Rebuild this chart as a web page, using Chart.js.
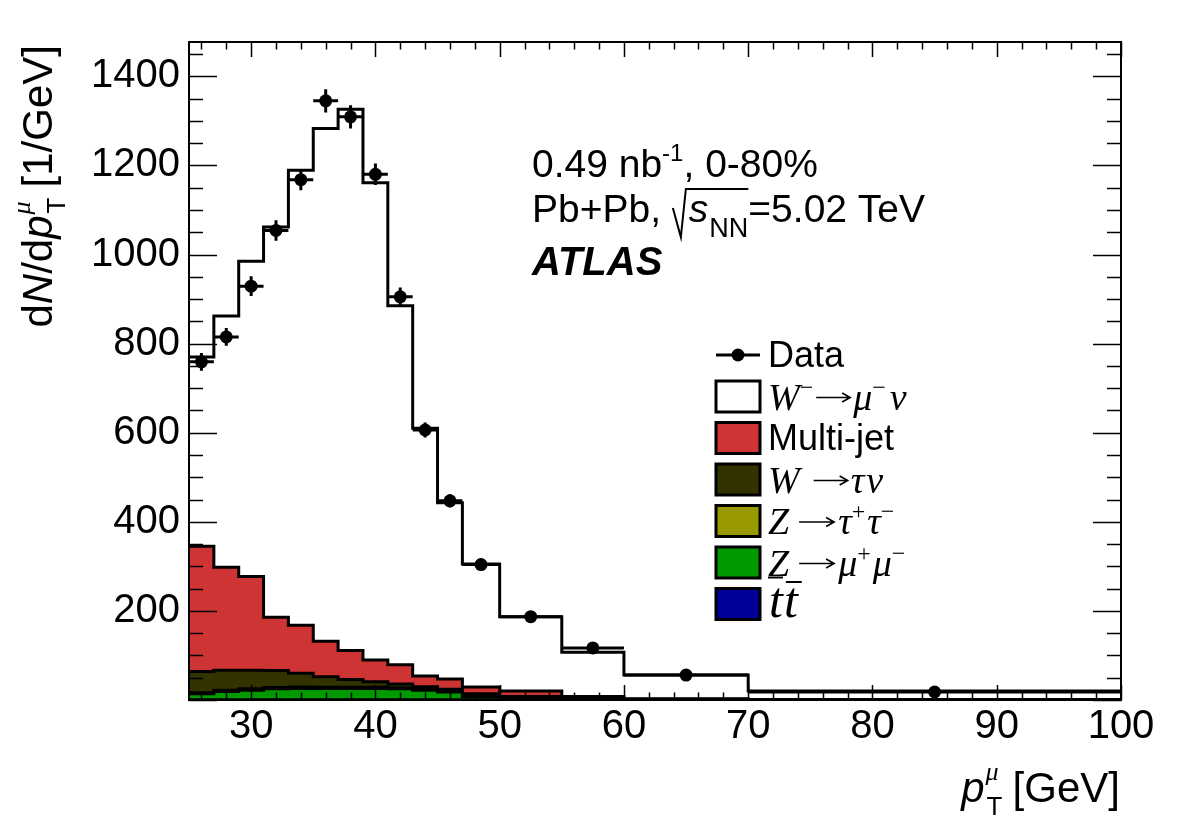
<!DOCTYPE html>
<html>
<head>
<meta charset="utf-8">
<script src="https://cdn.jsdelivr.net/npm/chart.js@4.4.1/dist/chart.umd.min.js"></script>
<style>
  html, body { margin: 0; padding: 0; background: #fff; }
  canvas { display: block; }
</style>
</head>
<body>
<canvas id="chart" width="1182" height="836"></canvas>
<script>
// muon pT bins [GeV]
const binEdges = [25, 27, 29, 31, 33, 35, 37, 39, 41, 43, 45, 47, 50, 55, 60, 70, 100];

// data points (bin centres, dN/dpT, stat. error)
const dataCenters = [26, 28, 30, 32, 34, 36, 38, 40, 42, 44, 46, 48.5, 52.5, 57.5, 65, 85];
const dataValues  = [759, 815, 929, 1054, 1168, 1345, 1309, 1180, 905, 606, 447, 304, 187, 117, 56, 18];
const dataErrors  = [20, 20, 22, 23, 24, 26, 26, 24, 21, 17, 15, 10, 6, 5, 2.4, 0.8];

// stacked expectations, bottom to top
const ttbar    = [0.5, 0.5, 0.6, 0.6, 0.6, 0.6, 0.6, 0.6, 0.6, 0.5, 0.5, 0.4, 0.3, 0.2, 0.1, 0.05];
const zMuMu    = [13.5, 18.5, 21.4, 24.4, 25.4, 25.4, 25.4, 25.4, 24.4, 21.5, 17.5, 7.6, 3.7, 1.3, 0.6, 0.25];
const zTauTau  = [2.5, 2.8, 3.0, 3.0, 3.0, 2.8, 2.6, 2.4, 2.2, 1.9, 1.5, 1.0, 0.6, 0.3, 0.15, 0.06];
const wTauNu   = [47.5, 45.2, 42.0, 38.0, 31.0, 23.2, 17.4, 12.6, 8.8, 6.1, 4.5, 5.0, 3.4, 1.2, 0.65, 0.24];
const multiJet = [281, 231, 210, 120, 108, 80, 65, 49, 43, 24, 23, 15, 12, 5, 1.5, 0.6];
const wMuNu    = [425, 564, 708, 876, 1021, 1151, 1215, 1071, 806, 556, 396, 276, 167, 99, 53, 18.8];

const SANS = '"Liberation Sans", Arial, Helvetica, sans-serif';
const SERIF = '"Liberation Serif", "Times New Roman", serif';

// step histogram: one point per left edge + closing point at last edge
function stepPoints(values) {
    const pts = values.map((v, i) => ({ x: binEdges[i], y: v }));
    pts.push({ x: binEdges[binEdges.length - 1], y: values[values.length - 1] });
    return pts;
}

const stackDefs = [
    { label: 'ttbar', values: ttbar, color: '#000099' },
    { label: 'Z->mumu', values: zMuMu, color: '#009900' },
    { label: 'Z->tautau', values: zTauTau, color: '#999900' },
    { label: 'W->taunu', values: wTauNu, color: '#333300' },
    { label: 'Multi-jet', values: multiJet, color: '#cf3434' },
    { label: 'W- -> mu- nu', values: wMuNu, color: '#ffffff' }
];

const datasets = [{
    label: 'Data',
    data: dataCenters.map((c, i) => ({ x: c, y: dataValues[i] })),
    stack: 'data',
    showLine: false,
    pointRadius: 6.5,
    pointBackgroundColor: '#000',
    pointBorderColor: '#000',
    pointBorderWidth: 0
}];
stackDefs.forEach((s, i) => {
    datasets.push({
        label: s.label,
        data: stepPoints(s.values),
        stack: 'mc',
        stepped: 'before',
        fill: i === 0 ? 'origin' : '-1',
        backgroundColor: s.color,
        borderColor: '#000',
        borderWidth: 3,
        pointRadius: 0
    });
});

// draws mixed-font text left to right (p.arrow = drawn arrow length), returns end x
function rich(ctx, x, y, parts) {
    for (const p of parts) {
        if (p.arrow) {
            const ay = y - 12;
            ctx.save();
            ctx.lineWidth = 1.6;
            ctx.beginPath();
            ctx.moveTo(x, ay); ctx.lineTo(x + p.arrow, ay);
            ctx.moveTo(x + p.arrow - 8, ay - 4.5); ctx.lineTo(x + p.arrow, ay); ctx.lineTo(x + p.arrow - 8, ay + 4.5);
            ctx.stroke();
            ctx.restore();
            x += p.arrow + (p.gap || 0);
            continue;
        }
        ctx.font = p.font;
        ctx.fillText(p.t, x, y + (p.dy || 0));
        x += ctx.measureText(p.t).width + (p.gap || 0);
    }
    return x;
}
function richWidth(ctx, parts) {
    let w = 0;
    for (const p of parts) {
        ctx.font = p.font;
        w += ctx.measureText(p.t).width + (p.gap || 0);
    }
    return w;
}

const decor = {
    id: 'atlasDecor',
    afterDraw(chart) {
        const { ctx, chartArea: a, scales: { x, y } } = chart;
        ctx.save();
        ctx.strokeStyle = '#000';
        ctx.fillStyle = '#000';

        // error bars
        ctx.lineWidth = 3;
        dataCenters.forEach((c, i) => {
            const px = x.getPixelForValue(c);
            const py = y.getPixelForValue(dataValues[i]);
            ctx.beginPath();
            ctx.moveTo(x.getPixelForValue(binEdges[i]), py);
            ctx.lineTo(x.getPixelForValue(binEdges[i + 1]), py);
            ctx.moveTo(px, y.getPixelForValue(dataValues[i] - dataErrors[i]));
            ctx.lineTo(px, y.getPixelForValue(dataValues[i] + dataErrors[i]));
            ctx.stroke();
        });

        // frame
        ctx.lineWidth = 2;
        ctx.strokeRect(a.left, a.top, a.right - a.left, a.bottom - a.top);

        // ticks on all four sides
        ctx.lineWidth = 1.5;
        ctx.beginPath();
        for (let v = 0; v <= y.max; v += 50) {
            const len = v % 200 === 0 ? 28 : 14;
            const py = Math.round(y.getPixelForValue(v)) + 0.5;
            ctx.moveTo(a.left, py); ctx.lineTo(a.left + len, py);
            ctx.moveTo(a.right, py); ctx.lineTo(a.right - len, py);
        }
        for (let v = 26; v <= 100; v += 2) {
            const len = v % 10 === 0 ? 15 : 7.5;
            const px = Math.round(x.getPixelForValue(v)) + 0.5;
            ctx.moveTo(px, a.bottom); ctx.lineTo(px, a.bottom - len);
            ctx.moveTo(px, a.top); ctx.lineTo(px, a.top + len);
        }
        ctx.stroke();

        ctx.textAlign = 'left';
        ctx.textBaseline = 'alphabetic';

        // axis titles
        const xt = [
            { t: 'p', font: 'italic 42px ' + SANS, gap: 1 },
            { t: '\u03bc', font: 'italic 26px ' + SERIF, dy: -22, gap: 14 },
            { t: '[GeV]', font: '42px ' + SANS }
        ];
        const xw = richWidth(ctx, xt);
        let ex = 1120 - xw;
        ctx.font = 'italic 42px ' + SANS;
        const pW = ctx.measureText('p').width + 1;
        rich(ctx, ex, 802, xt);
        ctx.font = '26px ' + SANS;
        ctx.fillText('T', ex + pW + 1, 815);

        const yt = [
            { t: 'd', font: '42px ' + SANS },
            { t: 'N', font: 'italic 42px ' + SANS },
            { t: '/d', font: '42px ' + SANS },
            { t: 'p', font: 'italic 42px ' + SANS, gap: 1 },
            { t: '\u03bc', font: 'italic 26px ' + SERIF, dy: -22, gap: 14 },
            { t: '[1/GeV]', font: '42px ' + SANS }
        ];
        const yw = richWidth(ctx, yt);
        ctx.save();
        ctx.translate(52, 45 + yw);
        ctx.rotate(-Math.PI / 2);
        rich(ctx, 0, 0, yt);
        ctx.font = '42px ' + SANS;
        let off = ctx.measureText('d/d').width;
        ctx.font = 'italic 42px ' + SANS;
        off += ctx.measureText('Np').width + 1;
        ctx.font = '26px ' + SANS;
        ctx.fillText('T', off + 1, 13);
        ctx.restore();

        // annotation
        rich(ctx, 532, 177, [
            { t: '0.49 nb', font: '39px ' + SANS },
            { t: '-1', font: '24px ' + SANS, dy: -16 },
            { t: ', 0-80%', font: '39px ' + SANS }
        ]);
        let rx = rich(ctx, 532, 222, [{ t: 'Pb+Pb, ', font: '39px ' + SANS }]);
        const radStart = rx + 1;
        let sx = rich(ctx, radStart + 16, 222, [
            { t: 's', font: 'italic 39px ' + SANS, gap: 1 },
            { t: 'NN', font: '27px ' + SANS, dy: 15 }
        ]);
        ctx.lineWidth = 2;
        ctx.beginPath();
        ctx.moveTo(radStart, 208);
        ctx.lineTo(radStart + 8, 237);
        ctx.lineTo(radStart + 13, 189);
        ctx.lineTo(sx, 189);
        ctx.stroke();
        rich(ctx, sx, 222, [{ t: '=5.02 TeV', font: '39px ' + SANS }]);
        rich(ctx, 532, 275, [{ t: 'ATLAS', font: 'italic bold 40px ' + SANS }]);

        // legend
        const rowY = [355, 396.5, 438, 479.5, 521, 562.5, 604];
        const bx = 716, bw = 44, bh = 31, tx = 768;
        ctx.lineWidth = 3;
        ctx.beginPath();
        ctx.moveTo(bx, rowY[0]); ctx.lineTo(bx + bw, rowY[0]);
        ctx.stroke();
        ctx.beginPath();
        ctx.arc(bx + bw / 2, rowY[0], 6.5, 0, Math.PI * 2);
        ctx.fill();
        const legendOrder = [5, 4, 3, 2, 1, 0];
        legendOrder.forEach((si, r) => {
            const cy = rowY[r + 1];
            ctx.fillStyle = stackDefs[si].color;
            ctx.fillRect(bx, cy - bh / 2, bw, bh);
            ctx.strokeStyle = '#000';
            ctx.lineWidth = 3;
            ctx.strokeRect(bx, cy - bh / 2, bw, bh);
        });
        ctx.fillStyle = '#000';
        const it = 'italic 38px ' + SERIF;
        const sup = '24px ' + SERIF;
        rich(ctx, tx, rowY[0] + 12, [{ t: 'Data', font: '36px ' + SANS }]);
        rich(ctx, tx, rowY[1] + 13, [
            { t: 'W', font: it }, { t: '\u2212', font: sup, dy: -15, gap: 3 },
            { arrow: 34, gap: 3 }, { t: '\u03bc', font: it },
            { t: '\u2212', font: sup, dy: -15, gap: 4 }, { t: '\u03bd', font: it }
        ]);
        rich(ctx, tx, rowY[2] + 12, [{ t: 'Multi-jet', font: '36px ' + SANS }]);
        rich(ctx, tx, rowY[3] + 13, [
            { t: 'W', font: it, gap: 14 }, { arrow: 34, gap: 3 },
            { t: '\u03c4', font: it, gap: 2 }, { t: '\u03bd', font: it }
        ]);
        rich(ctx, tx, rowY[4] + 13, [
            { t: 'Z', font: it, gap: 10 }, { arrow: 35, gap: 4 },
            { t: '\u03c4', font: it }, { t: '+', font: sup, dy: -15, gap: 2 },
            { t: '\u03c4', font: it }, { t: '\u2212', font: sup, dy: -15 }
        ]);
        rich(ctx, tx, rowY[5] + 13, [
            { t: 'Z', font: it, gap: 10 }, { arrow: 35, gap: 4 },
            { t: '\u03bc', font: it }, { t: '+', font: sup, dy: -15, gap: 2 },
            { t: '\u03bc', font: it }, { t: '\u2212', font: sup, dy: -15 }
        ]);
        // stray bar under the Z, as in the source figure
        ctx.lineWidth = 2;
        ctx.beginPath();
        ctx.moveTo(tx, rowY[5] + 15); ctx.lineTo(tx + 15, rowY[5] + 15);
        ctx.stroke();
        const tt = 'italic 50px ' + SERIF;
        ctx.font = tt;
        const tw = ctx.measureText('t').width;
        const t2 = tx + 1 + tw + 1;
        rich(ctx, tx + 1, rowY[6] + 13, [{ t: 't', font: tt, gap: 1 }, { t: 't', font: tt }]);
        ctx.lineWidth = 2;
        ctx.beginPath();
        ctx.moveTo(t2 + 2, rowY[6] - 22); ctx.lineTo(t2 + tw + 4, rowY[6] - 22);
        ctx.stroke();

        ctx.restore();
    }
};

new Chart(document.getElementById('chart').getContext('2d'), {
    type: 'line',
    data: { datasets: datasets },
    plugins: [decor],
    options: {
        responsive: false,
        animation: false,
        devicePixelRatio: 1,
        layout: { padding: { top: 42, right: 61, left: 0, bottom: 0 } },
        plugins: {
            legend: { display: false },
            tooltip: { enabled: false }
        },
        scales: {
            x: {
                type: 'linear',
                min: 25,
                max: 100,
                grid: { display: false, drawTicks: false },
                border: { display: false },
                ticks: {
                    stepSize: 10,
                    includeBounds: false,
                    autoSkip: false,
                    maxRotation: 0,
                    padding: 3,
                    color: '#000',
                    font: { family: SANS, size: 40 }
                },
                afterFit: (s) => { s.height = 136; }
            },
            y: {
                type: 'linear',
                stacked: true,
                min: 0,
                max: 1477,
                grid: { display: false, drawTicks: false },
                border: { display: false },
                ticks: {
                    stepSize: 200,
                    includeBounds: false,
                    padding: 9,
                    color: '#000',
                    font: { family: SANS, size: 40 },
                    callback: (v) => (v === 0 ? '' : v)
                },
                afterFit: (s) => { s.width = 189; }
            }
        }
    }
});
</script>
</body>
</html>
